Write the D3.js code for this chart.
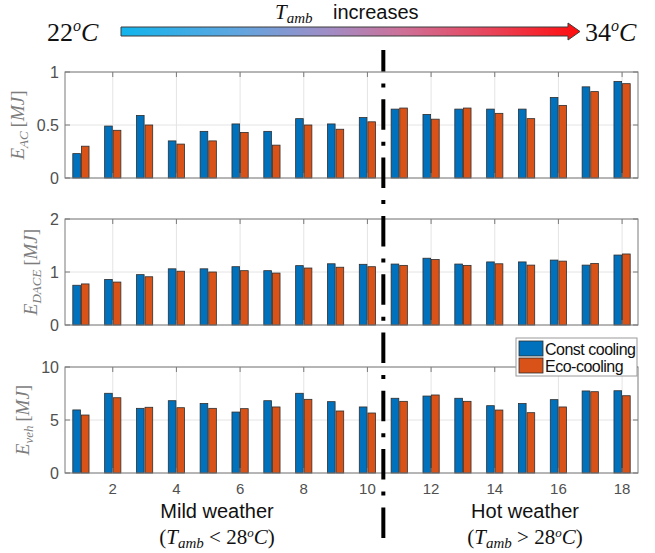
<!DOCTYPE html>
<html>
<head>
<meta charset="utf-8">
<script src="https://cdn.jsdelivr.net/npm/d3@7"></script>
<style>
  body { margin: 0; background: #fff; }
  svg { display: block; }
</style>
</head>
<body>
<svg id="chart" width="655" height="553"></svg>
<script>
// ---- data ----
const cases = d3.range(1, 19);
const seriesNames = ["Const cooling", "Eco-cooling"];
const seriesColors = ["#0072BD", "#D95319"];

const eacConst   = [0.23, 0.49, 0.59, 0.35, 0.44, 0.51, 0.44, 0.56, 0.51, 0.57, 0.65, 0.60, 0.65, 0.65, 0.65, 0.76, 0.86, 0.91];
const eacEco     = [0.30, 0.45, 0.50, 0.32, 0.35, 0.43, 0.31, 0.50, 0.46, 0.53, 0.66, 0.555, 0.66, 0.61, 0.56, 0.685, 0.815, 0.89];
const edaceConst = [0.75, 0.86, 0.95, 1.06, 1.06, 1.10, 1.025, 1.12, 1.155, 1.145, 1.15, 1.26, 1.15, 1.19, 1.19, 1.225, 1.13, 1.32];
const edaceEco   = [0.775, 0.81, 0.91, 1.015, 1.00, 1.025, 0.98, 1.075, 1.09, 1.10, 1.125, 1.235, 1.125, 1.155, 1.13, 1.205, 1.16, 1.34];
const evehConst  = [5.95, 7.52, 6.10, 6.82, 6.55, 5.75, 6.82, 7.52, 6.73, 6.23, 7.05, 7.26, 7.05, 6.35, 6.55, 6.92, 7.74, 7.76];
const evehEco    = [5.47, 7.10, 6.20, 6.16, 6.10, 6.07, 6.23, 6.95, 5.85, 5.66, 6.76, 7.36, 6.76, 5.94, 5.69, 6.23, 7.67, 7.29];

const eacTicks   = [0, 0.5, 1];
const edaceTicks = [0, 1, 2];
const evehTicks  = [0, 5, 10];
const xTicks     = [2, 4, 6, 8, 10, 12, 14, 16, 18];
const splitAt    = 10.5;   // boundary between mild and hot cases

// ---- layout ----
const svg = d3.select("#chart");
const plotLeft = 65, plotRight = 638;
const panelTops = [72, 219, 367];
const panelH = 106;
const axisColor = "#7a7a7a";
const tickTextColor = "#505050";
const labelColor = "#7d7d7d";
const sansFont = "'Liberation Sans', Arial, sans-serif";
const serifFont = "'Liberation Serif', 'Times New Roman', serif";

const x = d3.scaleLinear().domain([0.5, 18.5]).range([plotLeft, plotRight]);
const barW = 0.24;      // bar width in case units
const barOff = 0.135;   // half distance between the two bar centres

const panels = [
  { sub: "AC",   ticks: eacTicks,   tickFmt: d3.format("~g"), series: [eacConst, eacEco],     labelX: 24 },
  { sub: "DACE", ticks: edaceTicks, tickFmt: d3.format("~g"), series: [edaceConst, edaceEco], labelX: 37 },
  { sub: "veh",  ticks: evehTicks,  tickFmt: d3.format("~g"), series: [evehConst, evehEco],   labelX: 29 }
];

panels.forEach((p, pi) => {
  const top = panelTops[pi];
  const y = d3.scaleLinear()
    .domain([p.ticks[0], p.ticks[p.ticks.length - 1]])
    .range([top + panelH, top]);
  const g = svg.append("g");

  // grid
  g.selectAll(".vgrid").data(xTicks).join("line")
    .attr("x1", d => x(d)).attr("x2", d => x(d))
    .attr("y1", top).attr("y2", top + panelH)
    .attr("stroke", "#e4e4e4").attr("stroke-width", 1);
  g.selectAll(".hgrid").data(p.ticks).join("line")
    .attr("x1", plotLeft).attr("x2", plotRight)
    .attr("y1", d => y(d)).attr("y2", d => y(d))
    .attr("stroke", "#e4e4e4").attr("stroke-width", 1);

  // bars
  p.series.forEach((vals, si) => {
    const off = si === 0 ? -barOff : barOff;
    g.selectAll(".bar" + si).data(vals).join("rect")
      .attr("x", (d, i) => x(cases[i] + off - barW / 2))
      .attr("width", x(barW) - x(0))
      .attr("y", d => y(d))
      .attr("height", d => y(0) - y(d))
      .attr("fill", seriesColors[si])
      .attr("stroke", "#2e2e2e")
      .attr("stroke-width", 0.8);
  });

  // axes box
  g.append("rect")
    .attr("x", plotLeft).attr("y", top)
    .attr("width", plotRight - plotLeft).attr("height", panelH)
    .attr("fill", "none").attr("stroke", axisColor).attr("stroke-width", 1);

  // inward ticks on all four sides
  const tl = 5;
  xTicks.forEach(t => {
    g.append("line").attr("x1", x(t)).attr("x2", x(t))
      .attr("y1", top + panelH).attr("y2", top + panelH - tl)
      .attr("stroke", axisColor);
    g.append("line").attr("x1", x(t)).attr("x2", x(t))
      .attr("y1", top).attr("y2", top + tl)
      .attr("stroke", axisColor);
  });
  p.ticks.forEach(t => {
    g.append("line").attr("x1", plotLeft).attr("x2", plotLeft + tl)
      .attr("y1", y(t)).attr("y2", y(t)).attr("stroke", axisColor);
    g.append("line").attr("x1", plotRight).attr("x2", plotRight - tl)
      .attr("y1", y(t)).attr("y2", y(t)).attr("stroke", axisColor);
  });

  // y tick labels
  g.selectAll(".ytl").data(p.ticks).join("text")
    .attr("x", plotLeft - 6).attr("y", d => y(d))
    .attr("dy", "0.36em")
    .attr("text-anchor", "end")
    .attr("font-family", sansFont).attr("font-size", 16)
    .attr("fill", tickTextColor)
    .text(d => p.tickFmt(d));

  // y label  E_sub [MJ]
  const lab = g.append("text")
    .attr("transform", `translate(${p.labelX},${top + panelH / 2}) rotate(-90)`)
    .attr("text-anchor", "middle")
    .attr("font-family", serifFont).attr("font-size", 19)
    .attr("font-style", "italic")
    .attr("fill", labelColor);
  lab.append("tspan").text("E");
  lab.append("tspan").attr("font-size", 13).attr("dy", 4).text(p.sub);
  lab.append("tspan").attr("dy", -4).attr("font-style", "normal").text("\u2009[");
  lab.append("tspan").text("MJ");
  lab.append("tspan").attr("font-style", "normal").text("]");

  // x tick labels on the bottom panel only
  if (pi === panels.length - 1) {
    g.selectAll(".xtl").data(xTicks).join("text")
      .attr("x", d => x(d)).attr("y", top + panelH + 21)
      .attr("text-anchor", "middle")
      .attr("font-family", sansFont).attr("font-size", 15)
      .attr("fill", tickTextColor)
      .text(d => d);
  }
});

// ---- legend ----
const leg = svg.append("g");
leg.append("rect")
  .attr("x", 516).attr("y", 338).attr("width", 121).attr("height", 38)
  .attr("fill", "#fff").attr("stroke", "#9a9a9a").attr("stroke-width", 1);
seriesNames.forEach((name, i) => {
  leg.append("rect")
    .attr("x", 519).attr("y", 341 + i * 17).attr("width", 24).attr("height", 15)
    .attr("fill", seriesColors[i]).attr("stroke", "#2e2e2e").attr("stroke-width", 0.8);
  leg.append("text")
    .attr("x", 545).attr("y", 355 + i * 17)
    .attr("font-family", sansFont).attr("font-size", 16)
    .attr("letter-spacing", -0.5)
    .attr("fill", "#111")
    .text(name);
});

// ---- temperature arrow ----
const defs = svg.append("defs");
const grad = defs.append("linearGradient")
  .attr("id", "tempGrad")
  .attr("gradientUnits", "userSpaceOnUse")
  .attr("x1", 121).attr("x2", 580).attr("y1", 0).attr("y2", 0);
[[0, "#12b4ec"], [0.25, "#5fa6e0"], [0.45, "#a08dc6"], [0.62, "#cf6f96"], [0.8, "#e8455c"], [1, "#ff0d0d"]]
  .forEach(([o, c]) => grad.append("stop").attr("offset", o).attr("stop-color", c));

const arrowPath = d3.path();
arrowPath.moveTo(121, 27);
arrowPath.lineTo(568, 27);
arrowPath.lineTo(568, 23);
arrowPath.lineTo(580, 31.5);
arrowPath.lineTo(568, 40);
arrowPath.lineTo(568, 36);
arrowPath.lineTo(121, 36);
arrowPath.closePath();
svg.append("path").attr("d", arrowPath.toString())
  .attr("fill", "url(#tempGrad)").attr("stroke", "#3c3c3c").attr("stroke-width", 1);

function tempLabel(xPos, yPos, num) {
  const t = svg.append("text").attr("x", xPos).attr("y", yPos)
    .attr("font-family", serifFont).attr("font-size", 26).attr("fill", "#111");
  t.append("tspan").text(num);
  t.append("tspan").attr("font-size", 16).attr("font-style", "italic").attr("dy", -10).text("o");
  t.append("tspan").attr("font-style", "italic").attr("dy", 10).text("C");
}
tempLabel(47, 41, "22");
tempLabel(585, 41, "34");

const title = svg.append("text").attr("x", 275).attr("y", 19)
  .attr("font-family", serifFont).attr("font-size", 21).attr("fill", "#111");
title.append("tspan").attr("font-style", "italic").text("T");
title.append("tspan").attr("font-style", "italic").attr("font-size", 15).attr("dy", 4).text("amb");
title.append("tspan").attr("font-family", sansFont).attr("font-size", 20).attr("dy", -4).attr("x", 333).text("increases");

// ---- regime labels ----
function regime(cx, name, op) {
  svg.append("text").attr("x", cx).attr("y", 518)
    .attr("text-anchor", "middle")
    .attr("font-family", sansFont).attr("font-size", 20).attr("fill", "#111")
    .text(name);
  const t = svg.append("text").attr("x", cx).attr("y", 544)
    .attr("text-anchor", "middle")
    .attr("font-family", serifFont).attr("font-size", 21).attr("fill", "#111");
  t.append("tspan").text("(");
  t.append("tspan").attr("font-style", "italic").text("T");
  t.append("tspan").attr("font-style", "italic").attr("font-size", 15).attr("dy", 4).text("amb");
  t.append("tspan").attr("dy", -4).text(` ${op} 28`);
  t.append("tspan").attr("font-style", "italic").attr("font-size", 13).attr("dy", -7).text("o");
  t.append("tspan").attr("font-style", "italic").attr("dy", 7).text("C");
  t.append("tspan").text(")");
}
regime(217, "Mild weather", "<");
regime(525, "Hot weather", ">");

// ---- dash-dot separator between mild and hot cases ----
svg.append("line")
  .attr("x1", x(splitAt)).attr("x2", x(splitAt))
  .attr("y1", 50).attr("y2", 538)
  .attr("stroke", "#000").attr("stroke-width", 4)
  .attr("stroke-dasharray", "30.5,12,4,11.8")
  .attr("stroke-dashoffset", 9);
</script>
</body>
</html>
